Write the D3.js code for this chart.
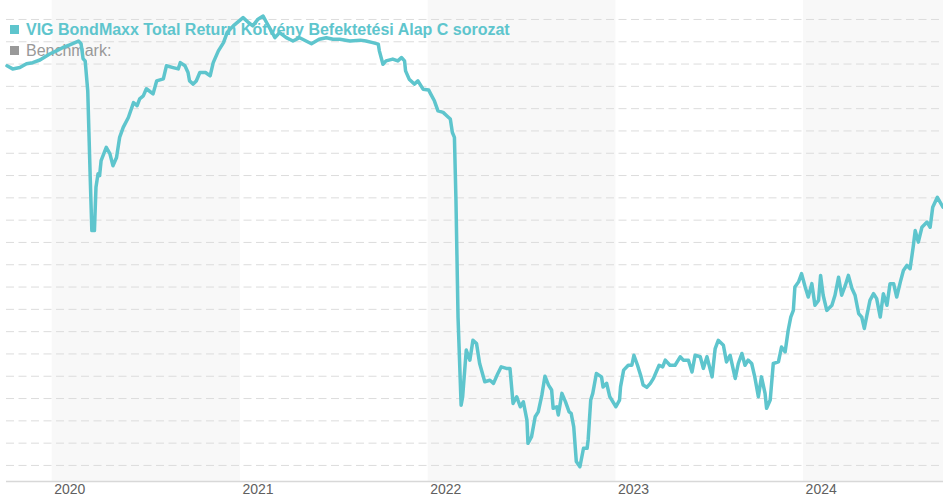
<!DOCTYPE html>
<html>
<head>
<meta charset="utf-8">
<script src="https://cdn.jsdelivr.net/npm/d3@7"></script>
<style>
  body { margin: 0; background: #fff; }
  svg { display: block; font-family: "Liberation Sans", Arial, sans-serif; }
</style>
</head>
<body>
<script>
var w = 943;
var h = 500;

var seriesName = "VIG BondMaxx Total Return Kötvény Befektetési Alap C sorozat";
var benchmarkName = "Benchmark:";

var dates = [
    "2019-10-06", "2019-10-17", "2019-10-31", "2019-11-13", "2019-11-25", "2019-12-09", "2019-12-28",
    "2020-01-10", "2020-01-22", "2020-02-05", "2020-02-22", "2020-02-27", "2020-03-02", "2020-03-06",
    "2020-03-11", "2020-03-16", "2020-03-19", "2020-03-24", "2020-03-27", "2020-03-31", "2020-04-03",
    "2020-04-06", "2020-04-16", "2020-04-23", "2020-04-29", "2020-05-06", "2020-05-12", "2020-05-19",
    "2020-05-29", "2020-06-08", "2020-06-15", "2020-06-20", "2020-06-27", "2020-07-03", "2020-07-16",
    "2020-07-23", "2020-08-05", "2020-08-11", "2020-08-24", "2020-09-03", "2020-09-07", "2020-09-16",
    "2020-09-22", "2020-09-25", "2020-10-02", "2020-10-08", "2020-10-15", "2020-10-26", "2020-11-04",
    "2020-11-10", "2020-11-20", "2020-11-30", "2020-12-07", "2020-12-19",
    "2021-01-07", "2021-01-18", "2021-01-26", "2021-02-05", "2021-02-15", "2021-02-22", "2021-03-01",
    "2021-03-10", "2021-03-19", "2021-04-01", "2021-04-14", "2021-04-27", "2021-05-20", "2021-06-04",
    "2021-06-18", "2021-07-01", "2021-07-14", "2021-08-03", "2021-08-23", "2021-09-03", "2021-09-16",
    "2021-09-27", "2021-09-29", "2021-10-06", "2021-10-12", "2021-10-25", "2021-11-04", "2021-11-11",
    "2021-11-17", "2021-11-19", "2021-11-26", "2021-12-06", "2021-12-13", "2021-12-23",
    "2022-01-03", "2022-01-07", "2022-01-14", "2022-01-21", "2022-01-31", "2022-02-07", "2022-02-14",
    "2022-02-18", "2022-02-22", "2022-02-25", "2022-03-01", "2022-03-07", "2022-03-10", "2022-03-17",
    "2022-03-24", "2022-03-30", "2022-04-06", "2022-04-12", "2022-04-22", "2022-05-02", "2022-05-09",
    "2022-05-16", "2022-05-24", "2022-06-03", "2022-06-10", "2022-06-16", "2022-06-23", "2022-06-30",
    "2022-07-06", "2022-07-13", "2022-07-15", "2022-07-22", "2022-07-29", "2022-08-04", "2022-08-11",
    "2022-08-17", "2022-08-24", "2022-08-30", "2022-09-02", "2022-09-09", "2022-09-12", "2022-09-19",
    "2022-09-26", "2022-10-03", "2022-10-07", "2022-10-12", "2022-10-17", "2022-10-24", "2022-10-31",
    "2022-11-07", "2022-11-09", "2022-11-14", "2022-11-18", "2022-11-25", "2022-12-05", "2022-12-08",
    "2022-12-15", "2022-12-21",
    "2023-01-02", "2023-01-09", "2023-01-11", "2023-01-17", "2023-01-26", "2023-02-02", "2023-02-06",
    "2023-02-13", "2023-02-20", "2023-02-24", "2023-03-03", "2023-03-10", "2023-03-16", "2023-03-27",
    "2023-04-03", "2023-04-08", "2023-04-17", "2023-04-27", "2023-05-07", "2023-05-13", "2023-05-23",
    "2023-05-30", "2023-06-05", "2023-06-15", "2023-06-21", "2023-06-28", "2023-07-08", "2023-07-14",
    "2023-07-20", "2023-07-30", "2023-08-05", "2023-08-12", "2023-08-22", "2023-08-28", "2023-09-04",
    "2023-09-10", "2023-09-16", "2023-09-23", "2023-09-29", "2023-10-06", "2023-10-12", "2023-10-19",
    "2023-10-22", "2023-10-29", "2023-11-04", "2023-11-14", "2023-11-20", "2023-11-27", "2023-12-03",
    "2023-12-08", "2023-12-13", "2023-12-16", "2023-12-23", "2023-12-29",
    "2024-01-05", "2024-01-11", "2024-01-18", "2024-01-24", "2024-01-31", "2024-02-04", "2024-02-09",
    "2024-02-16", "2024-02-26", "2024-03-03", "2024-03-10", "2024-03-16", "2024-03-23", "2024-03-29",
    "2024-04-05", "2024-04-11", "2024-04-18", "2024-04-24", "2024-04-29", "2024-05-04", "2024-05-10",
    "2024-05-17", "2024-05-23", "2024-05-30", "2024-06-05", "2024-06-12", "2024-06-18", "2024-06-25",
    "2024-07-01", "2024-07-08", "2024-07-14", "2024-07-21", "2024-07-27", "2024-08-02", "2024-08-06",
    "2024-08-12", "2024-08-19", "2024-08-29", "2024-09-04", "2024-09-09", "2024-09-18", "2024-09-29"
];

var values = [
    97.90, 97.76, 97.82, 97.99, 98.04, 98.16, 98.43,
    98.57, 98.71, 98.84, 99.01, 98.89, 98.21, 98.12,
    96.78, 92.75, 90.51, 90.51, 92.45, 93.06, 92.97,
    93.65, 94.24, 93.96, 93.42, 93.79, 94.69, 95.14,
    95.58, 96.25, 96.11, 96.42, 96.55, 96.87, 96.64,
    97.22, 97.31, 97.90, 97.82, 97.76, 98.04, 97.90,
    97.60, 97.22, 97.08, 97.22, 97.60, 97.60, 97.45,
    98.04, 98.57, 98.94, 99.39, 99.69,
    100.06, 99.83, 99.69, 99.99, 100.13, 99.83, 99.54,
    99.16, 99.39, 99.16, 99.01, 99.16, 98.89, 99.09,
    99.16, 99.09, 99.09, 99.01, 99.05, 99.01, 98.94,
    98.87, 98.57, 97.97, 98.12, 98.20, 98.12, 98.27,
    98.12, 97.67, 97.30, 97.08, 97.22, 96.85,
    96.81, 96.63, 96.33, 95.88, 95.81, 95.66, 95.51,
    94.91, 94.69, 91.86, 86.63, 82.68, 83.06, 85.15,
    84.70, 85.59, 85.44, 84.55, 83.73, 83.80, 83.66,
    84.03, 84.40, 84.33, 84.33, 82.76, 83.06, 82.61,
    82.83, 82.01, 80.97, 81.27, 82.16, 82.38, 83.13,
    83.98, 83.58, 83.36, 82.54, 82.61, 82.24, 83.21,
    82.83, 82.38, 82.31, 81.71, 80.15, 79.92, 80.75,
    80.75, 81.12, 82.91, 83.21, 84.10, 83.95, 83.50,
    83.66, 83.06,
    82.61, 82.91, 83.50, 84.25, 84.47, 84.47, 84.92,
    84.47, 83.95, 83.58, 83.48, 83.66, 83.88, 84.47,
    84.40, 84.70, 84.47, 84.47, 84.85, 84.70, 84.70,
    84.17, 84.92, 84.85, 84.33, 84.85, 83.95, 85.22,
    85.59, 85.37, 84.62, 84.92, 83.88, 84.55, 85.00,
    84.47, 84.70, 84.55, 83.95, 83.06, 83.95, 83.21,
    82.54, 82.91, 84.55, 84.62, 85.29, 85.07, 86.04,
    86.63, 86.93, 87.98, 88.20, 88.58,
    87.98, 87.53, 88.13, 87.16, 87.38, 88.50, 87.61,
    86.93, 87.16, 87.61, 88.42, 87.61, 88.05, 88.50,
    87.91, 87.61, 86.79, 86.63, 86.12, 86.71, 87.38,
    87.68, 87.46, 86.63, 87.68, 87.16, 88.13, 88.13,
    87.53, 88.20, 88.72, 88.95, 88.80, 89.77, 90.51,
    89.99, 90.66, 90.89, 90.66, 91.56, 92.00, 91.56
];

var yearLabels = ["2020", "2021", "2022", "2023", "2024"];
var gridValues = d3.range(80, 101, 1);

var parseDate = d3.timeParse("%Y-%m-%d");
var data = dates.map(function(d, i) {
    return { date: parseDate(d), value: values[i] };
});

var plotLeft = 7;
var plotRight = 943;
var plotTop = 0;
var plotBottom = 481;

var x = d3.scaleTime()
    .domain(d3.extent(data, function(d) { return d.date; }))
    .range([plotLeft, plotRight]);

var y = d3.scaleLinear()
    .domain([79.28, 100.85])
    .range([plotBottom, plotTop]);

var svg = d3.select("body")
    .append("svg")
        .attr("width", w)
        .attr("height", h);

// alternate year bands
var yearStarts = yearLabels.map(function(d) { return parseDate(d + "-01-01"); });
var bands = yearStarts.filter(function(d, i) { return i % 2 === 0; });

svg.selectAll("rect.band")
    .data(bands)
    .enter()
    .append("rect")
        .attr("class", "band")
        .attr("x", function(d) { return x(d); })
        .attr("y", plotTop)
        .attr("width", function(d) {
            var end = d3.timeYear.offset(d, 1);
            return Math.min(x(end), plotRight) - x(d);
        })
        .attr("height", plotBottom - plotTop)
        .attr("fill", "#f8f8f8");

// horizontal dashed grid
svg.append("g")
    .attr("class", "grid")
    .attr("transform", "translate(" + (plotLeft - 1) + ",0)")
    .call(d3.axisLeft(y).tickValues(gridValues).tickSize(-(plotRight - plotLeft + 1)).tickFormat(""))
    .call(function(g) { g.select(".domain").remove(); })
    .selectAll("line")
        .attr("stroke", "#dcdcdc")
        .attr("stroke-width", 1)
        .attr("stroke-dasharray", "8,4.5");

// x axis
var xAxis = svg.append("g")
    .attr("transform", "translate(0," + plotBottom + ")")
    .call(d3.axisBottom(x)
        .tickValues(yearStarts)
        .tickSize(0)
        .tickFormat(function(d, i) { return yearLabels[i]; }));

xAxis.select(".domain")
    .attr("d", "M" + (plotLeft - 1) + ",0.5H" + plotRight)
    .attr("stroke", "#d8d8d8")
    .attr("stroke-width", 1.5);

xAxis.selectAll("text")
    .attr("x", 2)
    .attr("y", 13)
    .attr("dy", 0)
    .attr("text-anchor", "start")
    .attr("font-family", "Liberation Sans, Arial, sans-serif")
    .attr("font-size", 14)
    .attr("fill", "#606060");

// legend (drawn under the line)
var legend = svg.append("g");

legend.append("rect")
    .attr("x", 10).attr("y", 25).attr("width", 9).attr("height", 9)
    .attr("fill", "#5ec5cd");
legend.append("text")
    .attr("x", 26).attr("y", 35)
    .attr("font-size", 16)
    .attr("font-weight", "bold")
    .attr("fill", "#5ec5cd")
    .text(seriesName);

legend.append("rect")
    .attr("x", 10).attr("y", 46).attr("width", 9).attr("height", 9)
    .attr("fill", "#999999");
legend.append("text")
    .attr("x", 26).attr("y", 56)
    .attr("font-size", 16)
    .attr("fill", "#999999")
    .text(benchmarkName);

// price line
var line = d3.line()
    .x(function(d) { return x(d.date); })
    .y(function(d) { return y(d.value); });

svg.append("path")
    .datum(data)
    .attr("d", line)
    .attr("fill", "none")
    .attr("stroke", "#5ec5cd")
    .attr("stroke-width", 3.5)
    .attr("stroke-linejoin", "round")
    .attr("stroke-linecap", "round");
</script>
</body>
</html>
